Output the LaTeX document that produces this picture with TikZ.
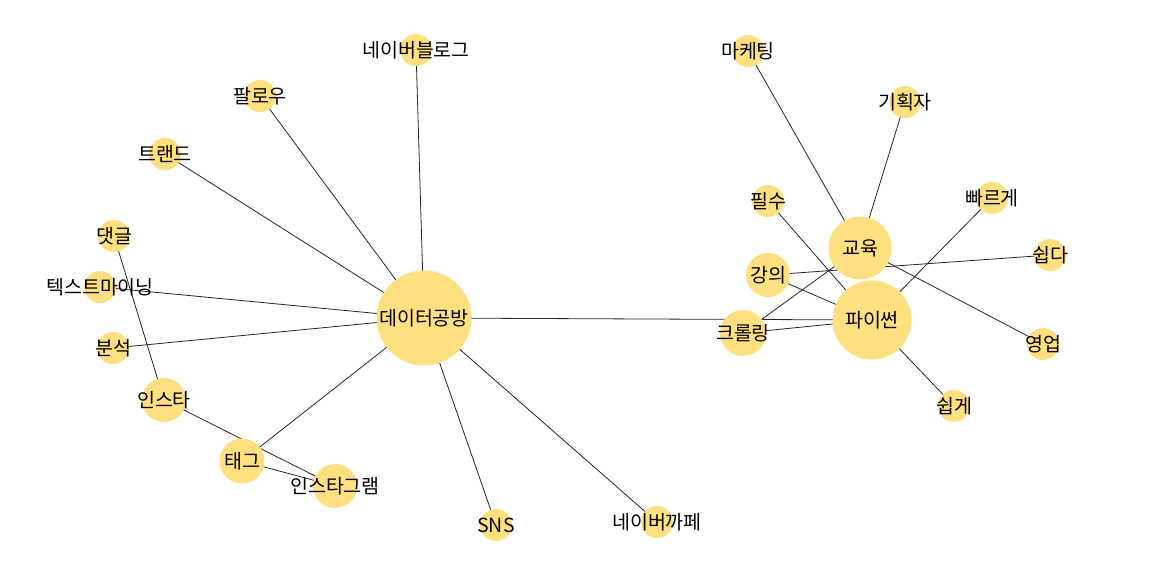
\documentclass[tikz,border=0pt]{standalone}
\usepackage{fontspec}
\setmainfont{Noto Sans CJK KR}
\usetikzlibrary{backgrounds}
\definecolor{nodefill}{RGB}{255,224,128}
\tikzset{
  vtx/.style={circle, fill=nodefill, draw=none, inner sep=0pt, minimum size=#1},
  vtx/.default=32pt,
  lbl/.style={font=\fontsize{19.5}{19.5}\selectfont, text=black},
  edge/.style={draw=black!85, line width=0.8pt}
}
\begin{document}
\begin{tikzpicture}[x=1pt, y=-1pt]
\useasboundingbox (0,0) rectangle (1152,576);
% nodes
\node[vtx=95pt, label={[lbl]center:데이터공방}] (dg) at (424,318) {};
\node[vtx=32pt, label={[lbl]center:네이버블로그}] (nb) at (416,50) {};
\node[vtx=32pt, label={[lbl]center:팔로우}] (pl) at (260,96) {};
\node[vtx=32pt, label={[lbl]center:트랜드}] (tr) at (165,154) {};
\node[vtx=32pt, label={[lbl]center:댓글}] (dc) at (114,236) {};
\node[vtx=32pt, label={[lbl]center:텍스트마이닝}] (tm) at (100,287) {};
\node[vtx=32pt, label={[lbl]center:분석}] (bs) at (113,348) {};
\node[vtx=44pt, label={[lbl]center:인스타}] (is) at (164,400) {};
\node[vtx=45pt, label={[lbl]center:태그}] (tg) at (242,461) {};
\node[vtx=44pt, label={[lbl]center:인스타그램}] (ig) at (335,486) {};
\node[vtx=32pt, label={[lbl]center:SNS}] (sns) at (496,525) {};
\node[vtx=32pt, label={[lbl]center:네이버까페}] (nc) at (657,522) {};
\node[vtx=46pt, label={[lbl]center:크롤링}] (cr) at (743,333) {};
\node[vtx=79pt, label={[lbl]center:파이썬}] (py) at (872,320) {};
\node[vtx=63pt, label={[lbl]center:교육}] (ed) at (860,248) {};
\node[vtx=44pt, label={[lbl]center:강의}] (lc) at (768,275) {};
\node[vtx=32pt, label={[lbl]center:필수}] (ps) at (768,201) {};
\node[vtx=32pt, label={[lbl]center:마케팅}] (mk) at (748,51) {};
\node[vtx=32pt, label={[lbl]center:기획자}] (gh) at (905,102) {};
\node[vtx=32pt, label={[lbl]center:빠르게}] (fs) at (992,198) {};
\node[vtx=32pt, label={[lbl]center:쉽다}] (sd) at (1050,255) {};
\node[vtx=32pt, label={[lbl]center:영업}] (yu) at (1043,344) {};
\node[vtx=32pt, label={[lbl]center:쉽게}] (sg) at (954,406) {};
% edges
\begin{scope}[on background layer]
\foreach \a/\b in {dg/nb, dg/pl, dg/tr, dg/tm, dg/bs, dg/tg, dg/sns, dg/nc, dg/py,
                   dc/is, is/ig, tg/ig,
                   cr/py, cr/ed, ed/mk, ed/gh, ed/yu, lc/sd, lc/py, ps/py, fs/py, py/sg}
  \draw[edge] (\a.center) -- (\b.center);
\end{scope}
\end{tikzpicture}
\end{document}
